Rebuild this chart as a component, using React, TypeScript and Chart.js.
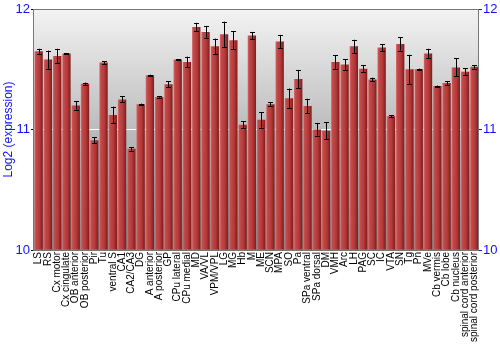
import React, { useEffect, useRef } from "react";
import { Chart, registerables } from "chart.js";

Chart.register(...registerables);

const categories = [
  "LS", "RS", "Cx motor", "Cx cingulate", "OB anterior", "OB posterior", "Pir", "Tu",
  "ventral S", "CA1", "CA2/CA3", "DG", "A anterior", "A posterior", "GP", "CPu lateral",
  "CPu medial", "MD", "VA/VL", "VPM/VPL", "LG", "MG", "Hb", "M", "ME", "SCN", "MPA", "SO",
  "Pa", "SPa ventral", "SPa dorsal", "DM", "VMH", "Arc", "LH", "PAG", "SC", "IC", "VTA",
  "SN", "Tg", "Pn", "MVe", "Cb vermis", "Cb lobe", "Cb nucleus", "spinal cord anterior",
  "spinal cord posterior",
];

const expression = [
  11.65, 11.58, 11.61, 11.63, 11.2, 11.38, 10.91, 11.555, 11.12, 11.25,
  10.84, 11.21, 11.45, 11.27, 11.375, 11.58, 11.56, 11.85, 11.81, 11.69,
  11.79, 11.74, 11.04, 11.78, 11.08, 11.21, 11.73, 11.26, 11.42, 11.195,
  11.0, 10.99, 11.56, 11.54, 11.69, 11.505, 11.415, 11.68, 11.11, 11.71,
  11.5, 11.5, 11.63, 11.36, 11.385, 11.515, 11.48, 11.52,
];

const errors = [
  0.02, 0.075, 0.06, 0.005, 0.035, 0.01, 0.025, 0.01, 0.07, 0.025,
  0.015, 0.005, 0.005, 0.005, 0.025, 0.005, 0.045, 0.035, 0.05, 0.065,
  0.105, 0.075, 0.03, 0.03, 0.065, 0.015, 0.055, 0.08, 0.075, 0.06,
  0.05, 0.07, 0.055, 0.045, 0.055, 0.03, 0.015, 0.03, 0.01, 0.055,
  0.12, 0.005, 0.04, 0.005, 0.015, 0.075, 0.03, 0.015,
];

const yTicks = [10, 11, 12];

const FONT = "'Liberation Sans', Arial, sans-serif";
const BLUE = "#1010ff";

const backgroundPlugin = {
  id: "bgGradient",
  beforeDraw(chart: any) {
    const { ctx, chartArea } = chart;
    if (!chartArea) return;
    const g = ctx.createLinearGradient(0, chartArea.top, 0, chartArea.bottom);
    g.addColorStop(0, "#f3f3f3");
    g.addColorStop(1, "#858585");
    ctx.save();
    ctx.fillStyle = g;
    ctx.fillRect(chartArea.left, chartArea.top, chartArea.right - chartArea.left, chartArea.bottom - chartArea.top);
    ctx.restore();
  },
};

const errorBarPlugin = {
  id: "errorBars",
  afterDatasetsDraw(chart: any) {
    const { ctx } = chart;
    const meta = chart.getDatasetMeta(0);
    const yScale = chart.scales.y;
    ctx.save();
    ctx.strokeStyle = "#000";
    ctx.lineWidth = 1;
    meta.data.forEach((bar: any, i: number) => {
      const v = expression[i];
      const e = errors[i];
      const x = Math.round(bar.x) + 0.5;
      const yTop = yScale.getPixelForValue(v + e);
      const yBot = yScale.getPixelForValue(v - e);
      ctx.beginPath();
      ctx.moveTo(x, yTop);
      ctx.lineTo(x, yBot);
      ctx.moveTo(x - 2.5, Math.round(yTop) + 0.5);
      ctx.lineTo(x + 2.5, Math.round(yTop) + 0.5);
      ctx.moveTo(x - 2.5, Math.round(yBot) + 0.5);
      ctx.lineTo(x + 2.5, Math.round(yBot) + 0.5);
      ctx.stroke();
    });
    ctx.restore();
  },
  afterDraw(chart: any) {
    const { ctx, chartArea } = chart;
    ctx.save();
    ctx.strokeStyle = "#777";
    ctx.lineWidth = 1;
    ctx.strokeRect(
      Math.round(chartArea.left) - 0.5,
      Math.round(chartArea.top) + 0.5,
      Math.round(chartArea.right - chartArea.left),
      Math.round(chartArea.bottom - chartArea.top)
    );
    ctx.restore();
  },
};

function barGradient(c: any) {
  const chart = c.chart;
  const xs = chart.scales && chart.scales.x;
  if (!xs || !chart.chartArea || typeof c.dataIndex !== "number") return "#b03a3a";
  const x = xs.getPixelForValue(c.dataIndex);
  const w = ((chart.chartArea.right - chart.chartArea.left) / categories.length) * 0.9;
  const g = chart.ctx.createLinearGradient(x - w / 2, 0, x + w / 2, 0);
  g.addColorStop(0, "#d87070");
  g.addColorStop(0.15, "#c44c4c");
  g.addColorStop(0.6, "#b43838");
  g.addColorStop(1, "#7c1c1c");
  return g;
}

export default function App() {
  const ref = useRef<HTMLCanvasElement>(null);
  useEffect(() => {
    document.body.style.margin = "0";
    const chart = new Chart(ref.current as HTMLCanvasElement, {
      type: "bar",
      data: {
        labels: categories,
        datasets: [
          {
            data: expression,
            backgroundColor: barGradient as any,
            borderWidth: 0,
            categoryPercentage: 1,
            barPercentage: 0.9,
            base: 10,
          } as any,
        ],
      },
      options: {
        animation: false,
        responsive: false,
        layout: { padding: { top: 9, left: 0, right: 0, bottom: 0 } },
        plugins: { legend: { display: false }, tooltip: { enabled: false } },
        scales: {
          x: {
            grid: { display: false, drawTicks: false },
            border: { display: false },
            ticks: {
              autoSkip: false,
              maxRotation: 90,
              minRotation: 90,
              padding: 2,
              color: "#000",
              font: { family: FONT, size: 10 },
            },
            afterFit: (s: any) => {
              s.height = 100;
            },
          },
          y: {
            position: "left",
            min: 10,
            max: 12,
            afterBuildTicks: (s: any) => {
              s.ticks = yTicks.map((v) => ({ value: v }));
            },
            grid: { color: "#ffffff", lineWidth: 1, tickColor: "#000", tickLength: 3 },
            border: { display: false },
            ticks: { color: BLUE, padding: 1, font: { family: FONT, size: 13 } },
            title: {
              display: true,
              text: "Log2 (expression)",
              color: BLUE,
              padding: { top: 1, bottom: 0 },
              font: { family: FONT, size: 12 },
            },
            afterFit: (s: any) => {
              s.width = 34;
            },
          },
          y2: {
            position: "right",
            min: 10,
            max: 12,
            afterBuildTicks: (s: any) => {
              s.ticks = yTicks.map((v) => ({ value: v }));
            },
            grid: { drawOnChartArea: false, tickColor: BLUE, tickLength: 3 },
            border: { display: false },
            ticks: { color: BLUE, padding: 1, font: { family: FONT, size: 13 } },
            afterFit: (s: any) => {
              s.width = 21;
            },
          },
        },
      },
      plugins: [backgroundPlugin, errorBarPlugin],
    });
    return () => chart.destroy();
  }, []);
  return (
    <div style={{ width: 500, height: 350 }}>
      <canvas ref={ref} width={500} height={350} />
    </div>
  );
}
